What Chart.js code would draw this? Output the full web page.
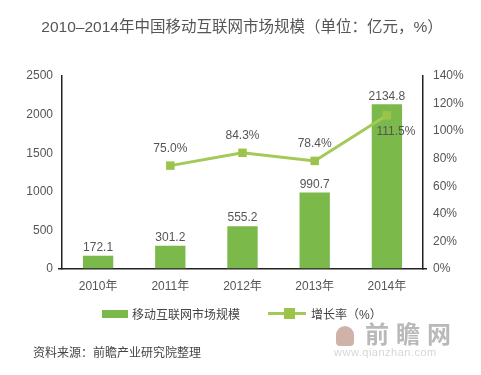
<!DOCTYPE html>
<html>
<head>
<meta charset="utf-8">
<script src="https://cdn.jsdelivr.net/npm/chart.js@4"></script>
<style>
  body { margin: 0; background: #fff; font-family: "Liberation Sans", "Noto Sans CJK SC", sans-serif; }
  #wrap { position: relative; width: 481px; height: 375px; overflow: hidden; }
  #chart { position: absolute; left: 0; top: 0; }
  .title { position: absolute; left: 0; width: 484px; top: 14px; text-align: center; font-size: 15.5px; color: #555; }
  .legend { position: absolute; top: 305px; left: 0; width: 481px; font-size: 12px; color: #444; }
  .legend span { position: absolute; }
  .source { position: absolute; left: 33px; top: 343px; font-size: 12px; color: #444; }
  .logo { position: absolute; left: 365px; top: 321px; font-size: 24px; color: #b9b9b9; letter-spacing: 7px; font-weight: bold; line-height: 28px; }
  .icon { position: absolute; left: 336px; top: 326px; width: 18px; height: 20px; border-radius: 9px 9px 4px 4px; background: #cfb2a8; }
  .www { position: absolute; left: 334px; top: 346px; font-size: 11px; color: #d6d6d6; letter-spacing: 0.5px; }
</style>
</head>
<body>
<div id="wrap">
  <canvas id="chart" width="481" height="375"></canvas>
  <div class="title">2010–2014年中国移动互联网市场规模（单位：亿元，%）</div>
  <div class="legend">
    <span style="left:102px; top:5px; width:26px; height:8px; background:#7cb94b;"></span>
    <span style="left:132px; top:0;">移动互联网市场规模</span>
    <span style="left:268px; top:7px; width:38px; height:3px; background:#a3c957;"></span>
    <span style="left:284px; top:3px; width:11px; height:11px; background:#9dc44a;"></span>
    <span style="left:311px; top:0;">增长率（%）</span>
  </div>
  <div class="source">资料来源：前瞻产业研究院整理</div>
  <div class="icon"></div>
  <div class="logo">前瞻网</div>
  <div class="www">www.qianzhan.com</div>
</div>
<script>
const years = ['2010年', '2011年', '2012年', '2013年', '2014年'];
const marketSize = [172.1, 301.2, 555.2, 990.7, 2134.8];
const growthRate = [null, 75.0, 84.3, 78.4, 111.5];

const barColor = '#7cb94b';
const lineColor = '#a3c957';

// draw value labels over the bars and the line points
const valueLabels = {
  id: 'valueLabels',
  afterDatasetsDraw(chart) {
    const ctx = chart.ctx;
    ctx.save();
    ctx.font = '12px "Liberation Sans", sans-serif';
    ctx.fillStyle = '#555';
    ctx.textAlign = 'center';
    ctx.textBaseline = 'middle';

    chart.getDatasetMeta(0).data.forEach((bar, i) => {
      ctx.fillText(marketSize[i].toFixed(1), bar.x, bar.y - 8);
    });

    chart.getDatasetMeta(1).data.forEach((pt, i) => {
      if (growthRate[i] === null) return;
      const label = growthRate[i].toFixed(1) + '%';
      if (i === growthRate.length - 1) {
        ctx.fillText(label, pt.x + 9, pt.y + 16);
      } else {
        ctx.fillText(label, pt.x, pt.y - 17);
      }
    });
    ctx.restore();
  }
};

const tickFont = { size: 12, family: '"Liberation Sans", "Noto Sans CJK SC"' };
// only the zero tick gets a mark (it looks like the x axis running past the y axes)
const zeroTickGrid = {
  drawOnChartArea: false,
  drawTicks: true,
  tickLength: 4,
  lineWidth: 1.5,
  color: c => (c.tick && c.tick.value === 0 ? '#222' : 'rgba(0,0,0,0)')
};

new Chart(document.getElementById('chart'), {
  data: {
    labels: years,
    datasets: [
      {
        type: 'bar',
        label: '移动互联网市场规模',
        data: marketSize,
        backgroundColor: barColor,
        yAxisID: 'y',
        barPercentage: 0.42,
        categoryPercentage: 1,
        order: 2
      },
      {
        type: 'line',
        label: '增长率（%）',
        data: growthRate,
        borderColor: lineColor,
        borderWidth: 3,
        backgroundColor: '#9dc44a',
        pointStyle: 'rect',
        pointRadius: 6,
        pointHoverRadius: 6,
        pointBorderWidth: 0,
        yAxisID: 'y1',
        order: 1
      }
    ]
  },
  options: {
    responsive: false,
    animation: false,
    layout: { padding: { top: 76, bottom: 76, left: 0, right: 0 } },
    plugins: {
      legend: { display: false },
      tooltip: { enabled: false }
    },
    scales: {
      x: {
        grid: { display: false, drawTicks: false },
        border: { color: '#222', width: 1.5 },
        ticks: { color: '#555', font: tickFont, padding: 10 },
        afterFit(scale) { scale.height = 30; }
      },
      y: {
        position: 'left',
        min: 0, max: 2500,
        ticks: { stepSize: 500, color: '#555', font: tickFont, padding: 5, callback: v => String(v) },
        grid: zeroTickGrid,
        border: { color: '#222', width: 1.5 },
        afterFit(scale) { scale.width = 62; }
      },
      y1: {
        position: 'right',
        min: 0, max: 140,
        ticks: { stepSize: 20, color: '#555', padding: 6, font: tickFont, callback: v => v + '%' },
        grid: zeroTickGrid,
        border: { color: '#222', width: 1.5 },
        afterFit(scale) { scale.width = 58; }
      }
    }
  },
  plugins: [valueLabels]
});
</script>
</body>
</html>
